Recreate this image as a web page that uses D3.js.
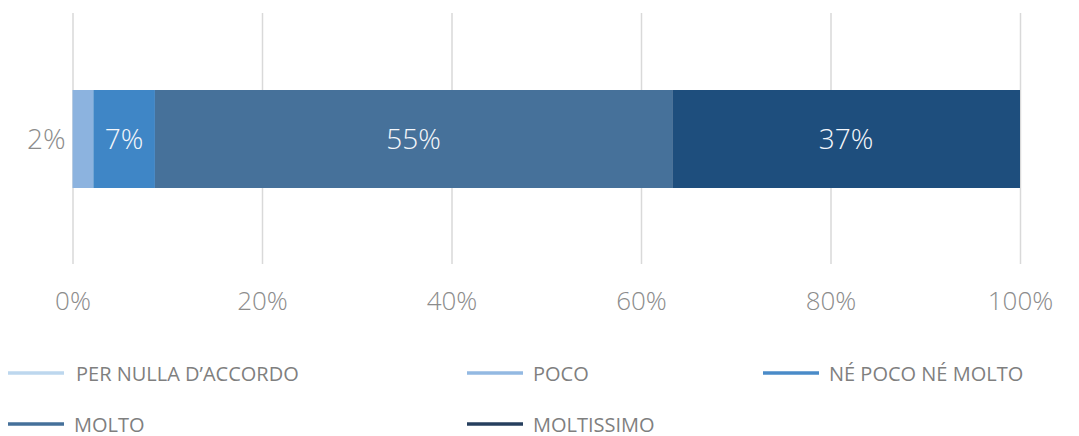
<!DOCTYPE html>
<html>
<head>
<meta charset="utf-8">
<script src="https://cdn.jsdelivr.net/npm/d3@7"></script>
<style>
  html, body { margin: 0; padding: 0; background: #ffffff; }
  svg { display: block; font-family: "Open Sans", "DejaVu Sans", sans-serif; }
</style>
</head>
<body>
<svg id="chart" width="1079" height="436"></svg>
<script>
// Agreement levels, in stacking order
const categories = ["PER NULLA D\u2019ACCORDO", "POCO", "N\u00C9 POCO N\u00C9 MOLTO", "MOLTO", "MOLTISSIMO"];
// Share of respondents (%) for each level
const values = [0, 2.2, 6.5, 54.6, 36.7];
const segmentColors = ["#bdd7ee", "#8cb3df", "#3f86c6", "#46719a", "#1e4e7d"];
const legendColors = ["#bdd7ee", "#93b9e2", "#4a8bc8", "#45709a", "#263f5e"];
const tickValues = [0, 20, 40, 60, 80, 100];

const svg = d3.select("#chart");
const x = d3.scaleLinear().domain([0, 100]).range([72.5, 1020]);

// Vertical gridlines and percentage axis
const gridTop = 13, gridBottom = 264;
const axis = d3.axisBottom(x)
  .tickValues(tickValues)
  .tickFormat(d => d + "%")
  .tickSize(gridBottom - gridTop)
  .tickSizeOuter(0);

const gAxis = svg.append("g")
  .attr("transform", `translate(0,${gridTop})`)
  .call(axis);
gAxis.select(".domain").remove();
gAxis.selectAll(".tick line")
  .attr("stroke", "#d9d9d9")
  .attr("stroke-width", 1.5);
gAxis.selectAll(".tick text")
  .attr("y", 297)
  .attr("dy", 0)
  .attr("fill", "#8c8c8c")
  .style("font-size", "26px")
  .style("font-weight", 300)
  .style("font-family", "\"Open Sans\", sans-serif");

// Stacked segments
let acc = 0;
const segs = values.map((v, i) => {
  const s = { cat: categories[i], value: v, x0: acc, x1: acc + v, color: segmentColors[i] };
  acc += v;
  return s;
});

const barTop = 90, barH = 98;
svg.append("g").selectAll("rect")
  .data(segs.filter(d => d.value > 0))
  .join("rect")
  .attr("x", d => x(d.x0))
  .attr("y", barTop)
  .attr("width", d => x(d.x1) - x(d.x0))
  .attr("height", barH)
  .attr("fill", d => d.color);

// Value labels: small segments labelled outside on the left
const labelled = segs.filter(d => d.value > 0);
svg.append("g").selectAll("text")
  .data(labelled)
  .join("text")
  .attr("x", d => d.value < 4 ? x(d.x0) - 7 : x((d.x0 + d.x1) / 2))
  .attr("y", barTop + barH / 2 + 10)
  .attr("text-anchor", d => d.value < 4 ? "end" : "middle")
  .attr("fill", d => d.value < 4 ? "#8c8c8c" : "#f4f7fb")
  .style("font-size", "28px")
  .style("font-weight", 300)
  .text(d => Math.round(d.value) + "%");

// Legend
const legendPos = [[8, 373], [467, 373], [763, 373], [8, 424], [467, 424]];
const lg = svg.append("g").selectAll("g")
  .data(categories)
  .join("g")
  .attr("transform", (d, i) => `translate(${legendPos[i][0]},${legendPos[i][1]})`);
lg.append("line")
  .attr("x1", 0).attr("x2", 56)
  .attr("stroke", (d, i) => legendColors[i])
  .attr("stroke-width", 3.5);
lg.append("text")
  .attr("x", (d, i) => i === 0 ? 68 : 66)
  .attr("y", 7.5)
  .attr("fill", "#7f7f7f")
  .style("font-size", "20px")
  .style("font-weight", 400)
  .text(d => d);
</script>
</body>
</html>
